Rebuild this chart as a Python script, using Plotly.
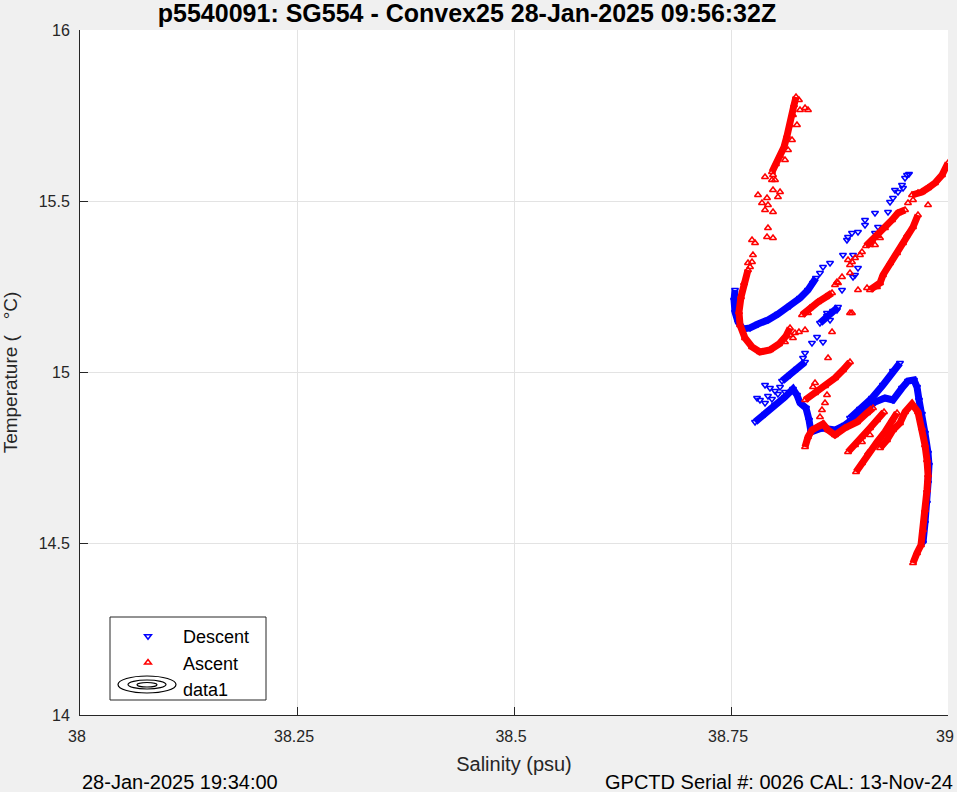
import plotly.graph_objects as go

# ---------------- data (salinity psu, temperature degC) ----------------
# Descent (blue) dense bands
desc_b1_sal = [38.7546, 38.7535, 38.7546, 38.7581, 38.7638, 38.7719, 38.7811, 38.7926, 38.8041, 38.8180, 38.8295, 38.8387, 38.8445, 38.8479]
desc_b1_tmp = [15.241, 15.2117, 15.1766, 15.1474, 15.127, 15.13, 15.1416, 15.1533, 15.1708, 15.1942, 15.2175, 15.2409, 15.2613, 15.2759]
desc_b2_sal = [38.8525, 38.8606, 38.8675, 38.8733]
desc_b2_tmp = [15.1445, 15.165, 15.1796, 15.1912]
desc_b3_sal = [38.8088, 38.8180, 38.8260, 38.8353]
desc_b3_tmp = [14.9752, 14.9927, 15.0102, 15.0307]
desc_b4_sal = [38.7777, 38.7892, 38.8007, 38.8122, 38.8214, 38.8260, 38.8295, 38.8364, 38.8399, 38.8422,
               38.8548, 38.8698, 38.8813, 38.8929, 38.9044, 38.9159, 38.9274, 38.9366, 38.9470, 38.9539,
               38.9608, 38.9643, 38.9666, 38.9700, 38.9735, 38.9770, 38.9781, 38.9770, 38.9758, 38.9735, 38.9712]
desc_b4_tmp = [14.8555, 14.8788, 14.9051, 14.9285, 14.9518, 14.9343, 14.911, 14.8963, 14.8613, 14.8263,
               14.838, 14.8321, 14.8467, 14.8701, 14.8934, 14.9139, 14.9255, 14.9197, 14.9547, 14.9752,
               14.9781, 14.9577, 14.9197, 14.8788, 14.8234, 14.765, 14.7299, 14.6774, 14.619, 14.5606, 14.5022]
desc_b5_sal = [38.8871, 38.8986, 38.9124, 38.9251, 38.9366, 38.9447]
desc_b5_tmp = [14.8672, 14.8934, 14.9255, 14.9635, 15.0044, 15.0277]
# Descent scattered samples
desc_pts_sal = [38.9528, 38.9505, 38.9551, 38.9470, 38.9389, 38.9424, 38.9482, 38.9366, 38.9332, 38.9309,
                38.9159, 38.9044, 38.9044, 38.9194, 38.9159, 38.8963, 38.8894, 38.8848, 38.8836, 38.8790,
                38.8906, 38.8963, 38.8929, 38.8779, 38.8721, 38.8641, 38.8560, 38.8525, 38.8906, 38.8606,
                38.8641, 38.8433, 38.8491, 38.8560, 38.8353, 38.8330, 38.7892, 38.7949, 38.8007, 38.8041,
                38.7926, 38.7834, 38.7892, 38.7972, 38.8065, 38.8122, 38.7800]
desc_pts_tmp = [15.5766, 15.5679, 15.5796, 15.5474, 15.5328, 15.527, 15.5387, 15.5095, 15.4978, 15.4686,
                15.4657, 15.4453, 15.4307, 15.4248, 15.4073, 15.4102, 15.4073, 15.3956, 15.3869, 15.3431,
                15.3431, 15.3051, 15.2847, 15.2409, 15.1825, 15.3197, 15.308, 15.2905, 15.2788, 15.1737,
                15.1533, 15.0861, 15.1036, 15.089, 15.0569, 15.0423, 14.9635, 14.9547, 14.946, 14.9372,
                14.9314, 14.9197, 14.911, 14.9226, 14.9577, 14.9431, 14.9255]

# Ascent (red) dense bands
asc_r1_sal = [38.7972, 38.8018, 38.8065, 38.8111, 38.8145, 38.8180, 38.8214, 38.8226, 38.8249]
asc_r1_tmp = [15.5854, 15.6088, 15.6321, 15.6584, 15.6905, 15.7226, 15.7518, 15.781, 15.8044]
asc_r2_sal = [38.7696, 38.7650, 38.7615, 38.7592, 38.7604, 38.7661, 38.7742, 38.7834, 38.7949, 38.8053, 38.8134, 38.8180]
asc_r2_tmp = [15.2993, 15.2613, 15.2204, 15.1766, 15.1387, 15.1007, 15.0745, 15.0599, 15.0657, 15.0832, 15.1066, 15.13]
asc_r3_sal = [38.8318, 38.8410, 38.8502, 38.8594, 38.8664]
asc_r3_tmp = [15.1679, 15.1883, 15.2058, 15.2204, 15.2321]
asc_r4_sal = [38.9055, 38.9124, 38.9194, 38.9274, 38.9355, 38.9424, 38.9505]
asc_r4_tmp = [15.3693, 15.3869, 15.3985, 15.4219, 15.4453, 15.4657, 15.4745]
asc_r5_sal = [38.9585, 38.9654, 38.9700, 38.9770, 38.9850, 38.9931, 38.9977, 39.0000]
asc_r5_tmp = [15.5183, 15.5241, 15.527, 15.5387, 15.5533, 15.5766, 15.5971, 15.6117]
asc_r6_sal = [38.9101, 38.9159, 38.9217, 38.9251, 38.9332, 38.9413, 38.9482, 38.9528, 38.9597, 38.9654]
asc_r6_tmp = [15.2409, 15.2496, 15.2613, 15.2847, 15.3197, 15.3489, 15.3781, 15.4015, 15.4248, 15.4599]
asc_r7_sal = [38.8353, 38.8468, 38.8583, 38.8698, 38.8790, 38.8871]
asc_r7_tmp = [14.9197, 14.9401, 14.9606, 14.9839, 15.0073, 15.0307]
asc_r8_sal = [38.8353, 38.8387, 38.8433, 38.8502, 38.8560, 38.8618, 38.8698, 38.8813, 38.8952, 38.9067, 38.9136]
asc_r8_tmp = [14.7825, 14.8117, 14.8321, 14.8409, 14.8496, 14.8321, 14.8175, 14.838, 14.8555, 14.8818, 14.8963]
asc_r9_sal = [38.8848, 38.8929, 38.9009, 38.9101, 38.9182, 38.9263]
asc_r9_tmp = [14.7679, 14.7883, 14.8117, 14.838, 14.8613, 14.8847]
asc_r10_sal = [38.8940, 38.9009, 38.9078, 38.9182, 38.9274, 38.9355, 38.9413]
asc_r10_tmp = [14.7095, 14.7358, 14.765, 14.7971, 14.8263, 14.8613, 14.8818]
asc_r11_sal = [38.9217, 38.9297, 38.9366, 38.9447, 38.9505, 38.9585, 38.9654, 38.9700, 38.9735, 38.9758,
               38.9770, 38.9758, 38.9735, 38.9712, 38.9689, 38.9643, 38.9597]
asc_r11_tmp = [14.7796, 14.8029, 14.8321, 14.8526, 14.8847, 14.908, 14.8847, 14.838, 14.7883, 14.7445,
               14.7007, 14.6569, 14.5985, 14.5401, 14.4964, 14.473, 14.4438]
# Ascent scattered samples
asc_pts_sal = [38.7892, 38.7984, 38.7972, 38.8007, 38.7984, 38.8065, 38.7811, 38.7857, 38.7915, 38.7926,
               38.7892, 38.7984, 38.8041, 38.7926, 38.7915, 38.7984, 38.7742, 38.7777, 38.7753, 38.7742,
               38.7696, 38.7719, 38.8353, 38.8387, 38.8283, 38.8295, 38.8260, 38.8203, 38.8157, 38.8122,
               38.8283, 38.8353, 38.8664, 38.8618, 38.8387, 38.8871, 38.8180, 38.8237, 38.8122, 38.8214,
               38.8848, 38.8894, 38.8929, 38.8986, 38.9009, 38.8871, 38.8779, 38.8871, 38.8733, 38.8894,
               38.8963, 38.9067, 38.9770, 38.9539, 38.9597, 38.9217, 38.9101, 38.9159, 38.9182, 38.8698,
               38.8721, 38.8468, 38.8445, 38.8583, 38.8606, 38.8548, 38.8525, 38.9009, 38.9101]
asc_pts_tmp = [15.5708, 15.5766, 15.562, 15.562, 15.5328, 15.527, 15.5183, 15.4949, 15.5095, 15.489,
               15.4745, 15.4686, 15.5124, 15.4219, 15.3956, 15.3927, 15.3869, 15.3781, 15.3431, 15.3226,
               15.3197, 15.308, 15.7723, 15.7664, 15.7956, 15.7664, 15.7226, 15.6788, 15.6497, 15.6204,
               15.1182, 15.1241, 15.1182, 15.0423, 15.1737, 15.1737, 15.1095, 15.1153, 15.089, 15.1007,
               15.3285, 15.3226, 15.3343, 15.3431, 15.3518, 15.3139, 15.2788, 15.2905, 15.2613, 15.1737,
               15.2409, 15.2467, 15.489, 15.4949, 15.5036, 15.3927, 15.3723, 15.3723, 15.2496, 15.2555,
               15.2642, 14.9693, 14.9577, 14.911, 14.9343, 14.8905, 14.8701, 14.7971, 14.8175]

x_tick_vals = [38, 38.25, 38.5, 38.75, 39]
x_tick_text = ["38", "38.25", "38.5", "38.75", "39"]
y_tick_vals = [14, 14.5, 15, 15.5, 16]
y_tick_text = ["14", "14.5", "15", "15.5", "16"]

title_text = "p5540091: SG554 - Convex25 28-Jan-2025 09:56:32Z"
left_footer = "28-Jan-2025 19:34:00"
right_footer = "GPCTD Serial #: 0026 CAL: 13-Nov-24"

# ---------------- figure ----------------
BLUE = "#0000ff"
RED = "#ff0000"
FONT = "Liberation Sans"
W, H = 957, 792
L, R, T, B = 80, 9, 30, 77
PW, PH = W - L - R, H - T - B


def px(xp):
    return (xp - L) / PW


def py(yp):
    return (H - B - yp) / PH


fig = go.Figure()

desc_marker = dict(symbol="triangle-down-open", size=6, color=BLUE, line=dict(width=1.5, color=BLUE))
asc_marker = dict(symbol="triangle-up-open", size=6, color=RED, line=dict(width=1.5, color=RED))

fig.add_trace(go.Scatter(x=desc_pts_sal, y=desc_pts_tmp, mode="markers", name="Descent",
                         marker=desc_marker, legendgroup="d"))
for s, t in [(desc_b1_sal, desc_b1_tmp), (desc_b2_sal, desc_b2_tmp), (desc_b3_sal, desc_b3_tmp),
             (desc_b4_sal, desc_b4_tmp), (desc_b5_sal, desc_b5_tmp)]:
    fig.add_trace(go.Scatter(x=s, y=t, mode="lines+markers", showlegend=False, legendgroup="d",
                             line=dict(color=BLUE, width=7), marker=desc_marker, hoverinfo="skip"))

fig.add_trace(go.Scatter(x=asc_pts_sal, y=asc_pts_tmp, mode="markers", name="Ascent",
                         marker=asc_marker, legendgroup="a"))
for s, t in [(asc_r1_sal, asc_r1_tmp), (asc_r2_sal, asc_r2_tmp), (asc_r3_sal, asc_r3_tmp),
             (asc_r4_sal, asc_r4_tmp), (asc_r5_sal, asc_r5_tmp), (asc_r6_sal, asc_r6_tmp),
             (asc_r7_sal, asc_r7_tmp), (asc_r8_sal, asc_r8_tmp), (asc_r9_sal, asc_r9_tmp),
             (asc_r10_sal, asc_r10_tmp), (asc_r11_sal, asc_r11_tmp)]:
    fig.add_trace(go.Scatter(x=s, y=t, mode="lines+markers", showlegend=False, legendgroup="a",
                             line=dict(color=RED, width=7), marker=asc_marker, hoverinfo="skip"))

# empty contour entry ("data1") for the legend
fig.add_trace(go.Scatter(x=[None], y=[None], mode="markers", name="data1",
                         marker=dict(color="rgba(0,0,0,0)", size=1)))

axis_common = dict(showgrid=True, gridcolor="#e3e3e3", gridwidth=1, zeroline=False,
                   showline=True, linecolor="#262626", linewidth=1, mirror=False,
                   ticks="inside", ticklen=8, tickcolor="#262626", tickwidth=1, automargin=False,
                   ticklabeloverflow="allow",
                   tickfont=dict(family=FONT, size=16, color="#262626"))

fig.update_layout(
    width=W, height=H,
    paper_bgcolor="#f0f0f0", plot_bgcolor="#ffffff",
    margin=dict(l=L, r=R, t=T, b=B),
    font=dict(family=FONT, color="#262626"),
    title=dict(text="<b>" + title_text + "</b>", x=467 / W,
               xanchor="center", y=1 - 13 / H, yanchor="middle",
               font=dict(family=FONT, size=25, color="#000000")),
    xaxis=dict(range=[38, 39], tickvals=x_tick_vals, ticktext=x_tick_text, ticklabelstandoff=7,
               ticklabelshift=-3,
               title=dict(text="Salinity (psu)", font=dict(family=FONT, size=20, color="#262626"), standoff=12),
               **axis_common),
    yaxis=dict(range=[14, 16], tickvals=y_tick_vals, ticktext=y_tick_text, ticklabelstandoff=6,
               title=dict(text="Temperature (   °C)", font=dict(family=FONT, size=19, color="#262626"), standoff=19),
               **axis_common),
    showlegend=True,
    legend=dict(x=px(113), y=py(618), xanchor="left", yanchor="top",
                bgcolor="rgba(0,0,0,0)", borderwidth=0,
                font=dict(family=FONT, size=18, color="#000000"), itemwidth=60,
                tracegroupgap=0),
    annotations=[
        dict(text=left_footer, xref="paper", yref="paper", x=0, y=py(782),
             xanchor="left", yanchor="middle", showarrow=False,
             font=dict(family=FONT, size=20, color="#000000")),
        dict(text=right_footer, xref="paper", yref="paper", x=px(955), y=py(782),
             xanchor="right", yanchor="middle", showarrow=False,
             font=dict(family=FONT, size=20, color="#000000")),
    ],
)

# legend box
fig.add_shape(type="rect", xref="paper", yref="paper", x0=px(110), x1=px(266), y0=py(700), y1=py(617),
              fillcolor="#ffffff", line=dict(color="#262626", width=1), layer="above")
# contour-style icon for the "data1" legend entry (three nested ellipses)
for (x0, x1, y0, y1) in [(118, 176, 676, 693), (128, 166, 680, 689), (137, 157, 682.5, 687)]:
    fig.add_shape(type="circle", xref="paper", yref="paper",
                  x0=px(x0), x1=px(x1), y0=py(y1), y1=py(y0),
                  line=dict(color="#000000", width=1.2), layer="above")

fig.write_html("out.html", config={"displayModeBar": False},
               post_script="document.body.style.margin='0px';")
